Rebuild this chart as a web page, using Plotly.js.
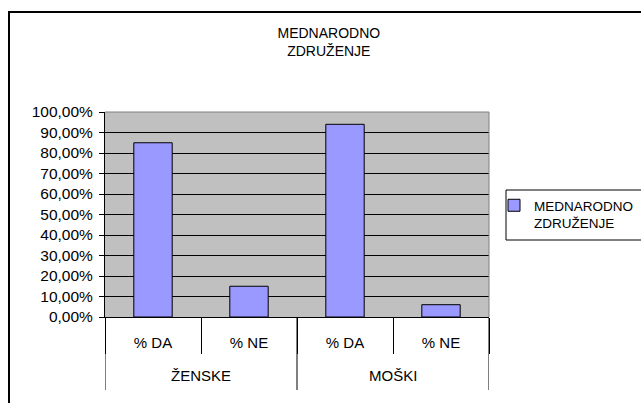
<!DOCTYPE html>
<html>
<head>
<meta charset="utf-8">
<script src="https://cdn.plot.ly/plotly-3.0.1.min.js"></script>
<style>
html,body{margin:0;padding:0;background:#fff;}
#chart{width:641px;height:403px;}
</style>
</head>
<body>
<div id="chart"></div>
<script>
const groups = ["ŽENSKE", "ŽENSKE", "MOŠKI", "MOŠKI"];
const answers = ["% DA", "% NE", "% DA", "% NE"];
const values = [0.85, 0.15, 0.94, 0.06];
const seriesName = "MEDNARODNO<br>ZDRUŽENJE";
const chartTitle = "MEDNARODNO<br>ZDRUŽENJE";

const FONT = "Liberation Sans, Arial, sans-serif";

// unique category keys, displayed with the answer label only
const keys = groups.map((g, i) => g + " | " + answers[i]);

// group spans (category index ranges) for the second label row
const groupNames = [];
const groupIdx = {};
groups.forEach((g, i) => {
  if (!(g in groupIdx)) { groupIdx[g] = []; groupNames.push(g); }
  groupIdx[g].push(i);
});

const PLOT_L = 105, PLOT_R = 489, PLOT_T = 112, PLOT_B = 317;
const PH = PLOT_B - PLOT_T, PW = PLOT_R - PLOT_L;
const py = y => (PLOT_B - y) / PH;   // pixel y -> paper y
const px = x => (x - PLOT_L) / PW;   // pixel x -> paper x

const annotations = groupNames.map(g => {
  const idx = groupIdx[g];
  return {
    x: (idx[0] + idx[idx.length - 1]) / 2, xref: "x",
    y: py(375), yref: "paper",
    text: g, showarrow: false,
    xanchor: "center", yanchor: "middle",
    font: {family: FONT, size: 15, color: "#000000"}
  };
});

const dividerShapes = [];
const bounds = new Set();
groupNames.forEach(g => {
  const idx = groupIdx[g];
  bounds.add(idx[0] - 0.5);
  bounds.add(idx[idx.length - 1] + 0.5);
});
bounds.forEach(b => dividerShapes.push({
  type: "line", xref: "x", yref: "paper",
  x0: b, x1: b, y0: 0, y1: py(390),
  line: {color: "#000000", width: 1}
}));

const trace = {
  type: "bar",
  x: keys,
  y: values,
  name: seriesName,
  showlegend: true,
  marker: {color: "#9999FF", line: {color: "#000000", width: 1}},
  hoverinfo: "none"
};

const layout = {
  width: 641,
  height: 403,
  margin: {l: PLOT_L, r: 641 - PLOT_R, t: PLOT_T, b: 403 - PLOT_B, pad: 0, autoexpand: false},
  paper_bgcolor: "#ffffff",
  plot_bgcolor: "#C0C0C0",
  separators: ",.",
  font: {family: FONT, size: 15, color: "#000000"},
  title: {
    text: chartTitle,
    font: {family: FONT, size: 14, color: "#000000"},
    x: 0.513, xanchor: "center",
    y: 0.905, yanchor: "middle"
  },
  bargap: 0.6,
  showlegend: true,
  legend: {
    xref: "container", yref: "container",
    x: 494 / 641, xanchor: "left",
    y: 1 - 190 / 403, yanchor: "top",
    bgcolor: "rgba(0,0,0,0)",
    borderwidth: 0,
    itemwidth: 30,
    valign: "top",
    font: {family: FONT, size: 13.5, color: "#000000"}
  },
  xaxis: {
    type: "category",
    range: [-0.5, keys.length - 0.5],
    tickmode: "array",
    tickvals: keys,
    ticktext: answers,
    showline: true, linecolor: "#000000", linewidth: 1,
    ticks: "outside", ticklen: 36, tickcolor: "#000000", tickwidth: 1,
    tickson: "boundaries",
    ticklabelstandoff: 12,
    showgrid: false,
    tickfont: {family: FONT, size: 15, color: "#000000"},
    fixedrange: true
  },
  yaxis: {
    range: [0, 1],
    dtick: 0.1,
    tick0: 0,
    tickformat: ".2%",
    showline: true, linecolor: "#000000", linewidth: 1,
    ticks: "outside", ticklen: 5, tickcolor: "#000000",
    ticklabelstandoff: 3,
    showgrid: true, gridcolor: "#000000", gridwidth: 1,
    zeroline: false,
    tickfont: {family: FONT, size: 15.5, color: "#000000"},
    fixedrange: true
  },
  annotations: annotations,
  shapes: dividerShapes.concat([
    {type: "line", xref: "paper", yref: "paper", x0: 0, x1: 1, y0: 1, y1: 1,
     line: {color: "#808080", width: 1}, layer: "above"},
    {type: "line", xref: "paper", yref: "paper", x0: 1, x1: 1, y0: 0, y1: 1,
     line: {color: "#808080", width: 1}, layer: "above"},
    {type: "rect", xref: "paper", yref: "paper",
     x0: px(9), x1: px(700), y0: py(460), y1: py(12),
     line: {color: "#000000", width: 2}, fillcolor: "rgba(0,0,0,0)", layer: "above"},
    {type: "rect", xref: "paper", yref: "paper",
     x0: px(506), x1: px(700), y0: py(240), y1: py(190),
     line: {color: "#000000", width: 1}, fillcolor: "#ffffff", layer: "above"}
  ])
};

Plotly.newPlot("chart", [trace], layout, {displayModeBar: false, staticPlot: true});
</script>
</body>
</html>
